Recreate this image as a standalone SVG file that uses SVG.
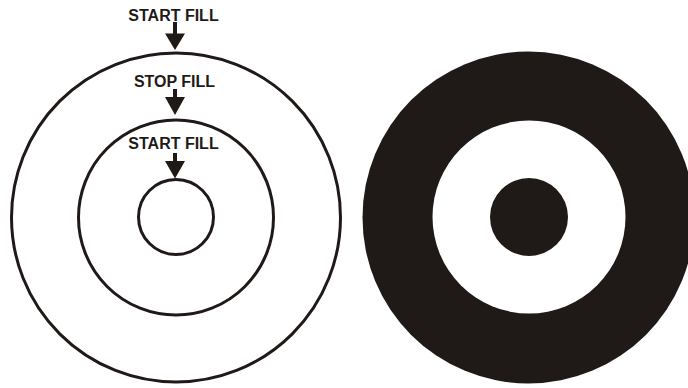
<svg xmlns="http://www.w3.org/2000/svg" width="688" height="388" viewBox="0 0 688 388">
<style>
.ring{fill:none;stroke:#1f1a17;stroke-width:3}
.lbl{font-family:"Liberation Sans",Arial,sans-serif;font-weight:bold;font-size:16px;fill:#1f1a17;text-anchor:middle}
.arr{fill:#1f1a17}
</style>
<rect width="688" height="388" fill="#fff"/>
<g id="left-outer"><circle class="ring" cx="176" cy="217.5" r="164.5"/></g>
<g id="left-middle"><circle class="ring" cx="176" cy="217.5" r="97.5"/></g>
<g id="left-inner"><circle class="ring" cx="176" cy="217" r="37.5"/></g>
<g id="label-start1"><text class="lbl" x="173.5" y="20.5">START FILL</text></g>
<g id="label-stop"><text class="lbl" x="174.5" y="87">STOP FILL</text></g>
<g id="label-start2"><text class="lbl" x="173.5" y="149">START FILL</text></g>
<g id="connectors">
<path class="arr" d="M173,22 H177 V33.5 H185 L175,50 L165,33.5 H173 Z"/>
<path class="arr" d="M173,89 H177 V97 H185 L175,115 L165,97 H173 Z"/>
<path class="arr" d="M173,153 H177 V161 H185 L175,178.5 L165,161 H173 Z"/>
</g>
<g id="right-target">
<circle cx="528.5" cy="217.5" r="166" fill="#1f1a17"/>
<circle cx="529" cy="217" r="96.5" fill="#fff"/>
<circle cx="529" cy="217" r="39" fill="#1f1a17"/>
</g>
</svg>
